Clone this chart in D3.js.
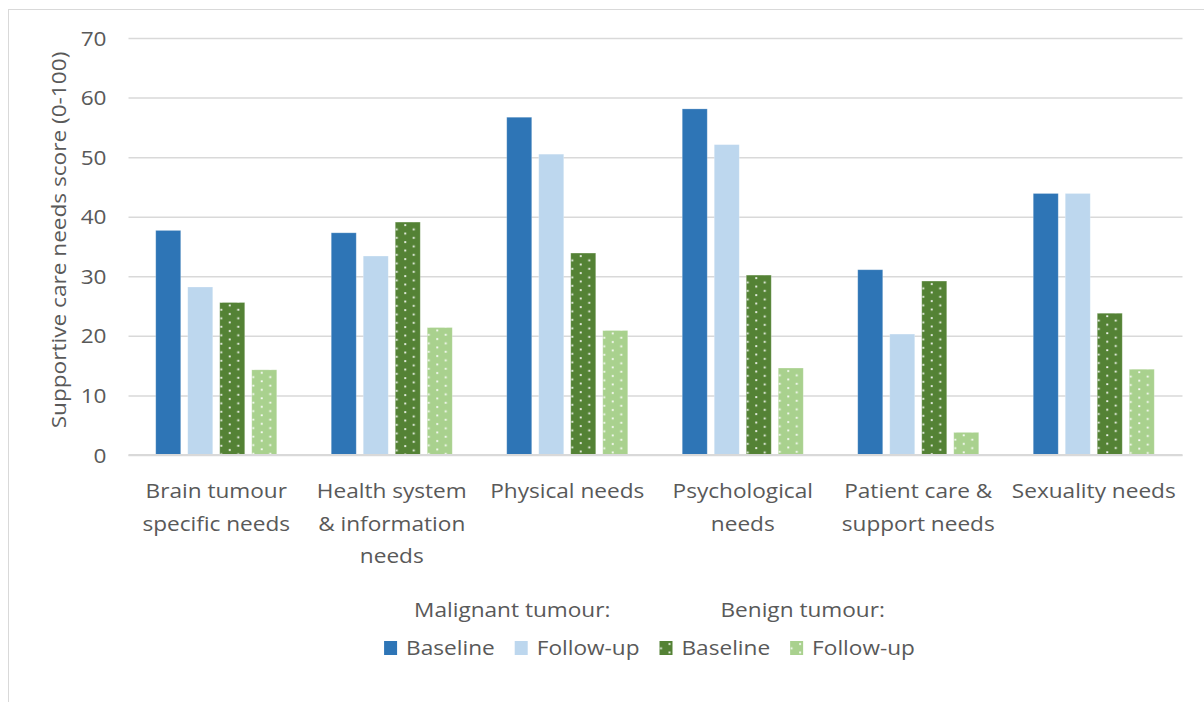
<!DOCTYPE html>
<html>
<head>
<meta charset="utf-8">
<script src="https://cdn.jsdelivr.net/npm/d3@7"></script>
<style>
  body { margin: 0; background: #fff; }
  svg { display: block; }
  text { font-family: "Open Sans", "Noto Sans", sans-serif; fill: #595959; font-size: 19.5px; }
</style>
</head>
<body>
<svg id="chart" width="1204" height="702"></svg>
<script>
// ---- data ----
const categories = [
  "Brain tumour specific needs",
  "Health system & information needs",
  "Physical needs",
  "Psychological needs",
  "Patient care & support needs",
  "Sexuality needs"
];
const categoryLines = [
  ["Brain tumour", "specific needs"],
  ["Health system", "& information", "needs"],
  ["Physical needs"],
  ["Psychological", "needs"],
  ["Patient care &", "support needs"],
  ["Sexuality needs"]
];
const malignantBaseline = [37.7, 37.3, 56.7, 58.1, 31.1, 43.9];
const malignantFollowUp = [28.2, 33.4, 50.5, 52.1, 20.3, 43.9];
const benignBaseline    = [25.6, 39.1, 33.9, 30.2, 29.2, 23.8];
const benignFollowUp    = [14.3, 21.4, 20.9, 14.6, 3.8, 14.4];
const seriesLabels = ["Baseline", "Follow-up", "Baseline", "Follow-up"];
const groupTitles = ["Malignant tumour:", "Benign tumour:"];
const yTicks = [0, 10, 20, 30, 40, 50, 60, 70];
const yTitle = "Supportive care needs score (0-100)";

// ---- styling ----
const series = [
  { key: "mb", label: seriesLabels[0], values: malignantBaseline, fill: "#2E75B6" },
  { key: "mf", label: seriesLabels[1], values: malignantFollowUp, fill: "#BDD7EE" },
  { key: "bb", label: seriesLabels[2], values: benignBaseline, fill: "url(#dots-dark)" },
  { key: "bf", label: seriesLabels[3], values: benignFollowUp, fill: "url(#dots-light)" }
];

const svg = d3.select("#chart");
const plot = { left: 128.5, right: 1182.5, top: 38, bottom: 455 };

// chart frame
svg.append("rect")
  .attr("x", 8.5).attr("y", 9.5).attr("width", 1220).attr("height", 720)
  .attr("fill", "none").attr("stroke", "#d9d9d9").attr("stroke-width", 1);

// dotted fills for the benign series
const defs = svg.append("defs");
[["dots-dark", "#548235"], ["dots-light", "#A9D18E"]].forEach(([id, color]) => {
  const p = defs.append("pattern").attr("id", id)
    .attr("patternUnits", "userSpaceOnUse")
    .attr("width", 17).attr("height", 8.5);
  p.append("rect").attr("width", 17).attr("height", 8.5).attr("fill", color);
  p.append("rect").attr("x", 0.6).attr("y", 6.4).attr("width", 1.8).attr("height", 1.8).attr("fill", "#fff");
  p.append("rect").attr("x", 9.1).attr("y", 2.1).attr("width", 1.8).attr("height", 1.8).attr("fill", "#fff");
});

// horizontal stretch applied to all labels (keeps the wide label look)
const probe = svg.append("text").text("Health system");
const S = 150 / probe.node().getComputedTextLength();
probe.remove();

// ---- scales ----
const x0 = d3.scaleBand().domain(categories).range([plot.left, plot.right - 1]).padding(0);
const x1 = d3.scaleBand().domain(series.map(s => s.key))
  .range([0, x0.bandwidth()]).paddingInner(7 / 32).paddingOuter(0.851);
const y = d3.scaleLinear().domain([0, 70]).range([plot.bottom, plot.top]);

// ---- gridlines and y tick labels ----
const yAxis = svg.append("g").attr("transform", `translate(${plot.left},0)`)
  .call(d3.axisLeft(y).tickValues(yTicks).tickSize(-(plot.right - plot.left)).tickPadding(0));
yAxis.select(".domain").remove();
yAxis.selectAll(".tick line").attr("stroke", "#d9d9d9").attr("stroke-width", 1.5);
yAxis.selectAll(".tick text")
  .attr("x", 0).attr("dy", "0.36em")
  .attr("transform", `translate(-22,0) scale(${S},1)`)
  .style("font-size", "19.5px").style("font-family", null).attr("fill", "#595959");

// ---- bars ----
const cat = svg.append("g").selectAll("g").data(categories).join("g")
  .attr("transform", d => `translate(${x0(d)},0)`);
cat.selectAll("g").data((d, i) => series.map(s => ({ key: s.key, value: s.values[i], fill: s.fill })))
  .join("g")
  .attr("transform", d => `translate(${x1(d.key)},${y(d.value)})`)
  .append("rect")
  .attr("width", x1.bandwidth())
  .attr("height", d => y(0) - y(d.value))
  .attr("fill", d => d.fill)
  .attr("stroke", "#ffffff").attr("stroke-opacity", 0.3).attr("stroke-width", 0.8);

// x axis baseline
svg.append("line")
  .attr("x1", plot.left).attr("x2", plot.right)
  .attr("y1", y(0)).attr("y2", y(0))
  .attr("stroke", "#d9d9d9").attr("stroke-width", 2);

// ---- category labels ----
categories.forEach((c, i) => {
  const cx = x0(c) + x0.bandwidth() / 2;
  categoryLines[i].forEach((line, j) => {
    svg.append("text")
      .attr("text-anchor", "middle")
      .attr("transform", `translate(${cx},${498 + j * 32.5}) scale(${S},1)`)
      .text(line);
  });
});

// ---- y axis title ----
svg.append("text")
  .attr("text-anchor", "middle")
  .attr("transform", `translate(66,240) rotate(-90) scale(${S},1)`)
  .text(yTitle);

// ---- legend ----
const legend = svg.append("g");
const widths = series.map(s => {
  const t = svg.append("text").text(s.label);
  const w = t.node().getComputedTextLength() * S;
  t.remove();
  return w;
});
const entryW = widths.map(w => 22 + w + 20);
const total = d3.sum(entryW) - 20;
let cursor = (plot.left + plot.right) / 2 - total / 2 - 6;
const starts = [];
series.forEach((s, i) => {
  starts.push(cursor);
  const g = legend.append("g").attr("transform", `translate(${cursor},641)`);
  g.append("rect").attr("width", 13).attr("height", 14).attr("fill", s.fill);
  g.append("text")
    .attr("transform", `translate(22,14) scale(${S},1)`)
    .text(s.label);
  cursor += entryW[i];
});
// group headings above each pair
legend.append("text")
  .attr("transform", `translate(${starts[0] + 30},617) scale(${S},1)`)
  .text(groupTitles[0]);
legend.append("text")
  .attr("transform", `translate(${starts[2] + 61},617) scale(${S},1)`)
  .text(groupTitles[1]);
</script>
</body>
</html>
